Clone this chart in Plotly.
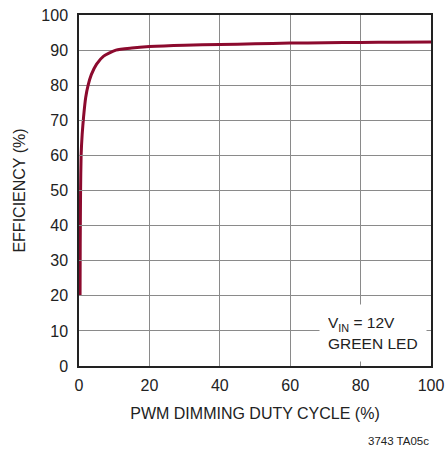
import plotly.graph_objects as go

duty_cycle = [0.3, 0.35, 0.45, 0.6, 0.9, 1.3, 1.9, 2.6, 3.5, 5, 7, 10.5, 15, 20, 30, 40, 50, 60, 70, 80, 90, 100]
efficiency = [20, 35, 50, 60, 66, 71, 76.5, 80, 83, 86, 88.3, 90, 90.6, 91.0, 91.4, 91.6, 91.8, 92.0, 92.1, 92.2, 92.25, 92.3]
x_ticks = [0, 20, 40, 60, 80, 100]
y_ticks = [0, 10, 20, 30, 40, 50, 60, 70, 80, 90, 100]

FONT = "Liberation Sans, Arial, Helvetica, sans-serif"

fig = go.Figure()
fig.add_trace(go.Scatter(
    x=duty_cycle, y=efficiency, mode="lines",
    line=dict(color="#8c0a2e", width=3, shape="spline", smoothing=0.6),
    showlegend=False, hoverinfo="skip"))

axis_common = dict(
    showgrid=True, gridcolor="#8a8a8a", gridwidth=1,
    showline=True, linecolor="#222222", linewidth=1.5, mirror="ticks",
    ticks="inside", ticklen=4, tickcolor="#8a8a8a", tickwidth=1,
    zeroline=False, automargin=False,
    tickfont=dict(family=FONT, size=16, color="#222222"),
    title_font=dict(family=FONT, size=16, color="#222222"),
)

fig.update_xaxes(range=[0, 100], tickvals=x_ticks,
                 title_text="PWM DIMMING DUTY CYCLE (%)", title_standoff=15,
                 ticklabelstandoff=4, **axis_common)
fig.update_yaxes(range=[0, 100], tickvals=y_ticks,
                 title_text="EFFICIENCY (%)", title_standoff=12,
                 ticklabelstandoff=6, **axis_common)

fig.add_annotation(
    x=98.9, y=1.1, xref="x", yref="y", xanchor="right", yanchor="bottom",
    text="V<sub>IN</sub> = 12V<br>GREEN LED", align="left", showarrow=False,
    bgcolor="white", borderpad=8, width=90, height=40,
    font=dict(family=FONT, size=15.5, color="#222222"))

fig.add_annotation(
    x=1.0, y=-0.215, xref="paper", yref="paper", xanchor="right", yanchor="middle",
    text="3743 TA05c", showarrow=False,
    font=dict(family=FONT, size=11.5, color="#222222"))

fig.update_layout(
    width=448, height=454,
    margin=dict(l=79, r=17, t=15, b=88),
    paper_bgcolor="white", plot_bgcolor="white",
)

fig.write_html("out.html", config={"displayModeBar": False},
               post_script="document.body.style.margin='0';document.body.style.overflow='hidden';")
